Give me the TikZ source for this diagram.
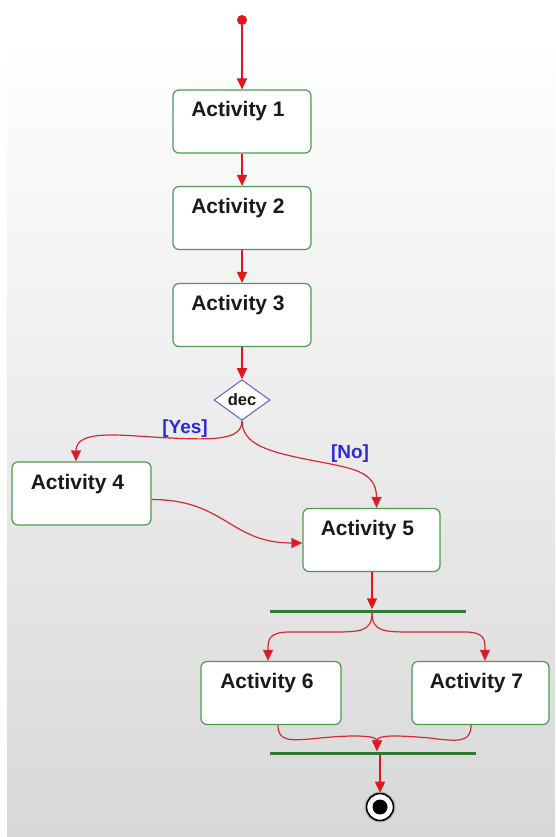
\documentclass[tikz,border=0pt]{standalone}
\usepackage{fontspec}
\setmainfont{Liberation Sans}
\usetikzlibrary{shapes.geometric,arrows.meta,calc}

\definecolor{flowred}{HTML}{E0161C}
\definecolor{curvered}{HTML}{D42A34}
\definecolor{boxgreen}{HTML}{4E9A50}
\definecolor{bargreen}{HTML}{2F7A32}
\definecolor{guardblue}{HTML}{2A2ADC}
\definecolor{decblue}{HTML}{5566CC}
\definecolor{panelbottom}{HTML}{D8D8D8}
\definecolor{inktext}{HTML}{1A1A1A}

\newcommand{\acttext}[1]{#1\kern8pt}

\begin{document}
\begin{tikzpicture}[x=1pt,y=-1pt,
  activity/.style={draw=boxgreen, line width=1.2pt, fill=white, rounded corners=6pt,
    minimum width=138pt, inner xsep=0pt, inner ysep=12pt, text height=15pt, text depth=24pt,
    font=\fontsize{21}{24}\selectfont\bfseries, text=inktext},
  decision/.style={diamond, draw=decblue, line width=1pt, fill=white, inner sep=0pt,
    minimum width=56pt, minimum height=36pt, font=\fontsize{16.5}{18}\selectfont\bfseries, text=inktext},
  startdot/.style={circle, fill=flowred, inner sep=0pt, minimum size=10pt},
  enddot/.style={circle, draw=black, line width=1.6pt, fill=white, inner sep=0pt, minimum size=27pt,
    preaction={draw=gray!55, line width=4pt},
    path picture={\fill[black] (path picture bounding box.center) circle (7.5pt);}},
  syncbar/.style={rectangle, fill=bargreen, inner sep=0pt, minimum height=3pt},
  guard/.style={text=guardblue, inner sep=0pt, font=\fontsize{19}{22}\selectfont\bfseries},
  flow/.style={draw=flowred, line width=1.5pt, -{Triangle[length=11pt,width=10pt]}},
  flowcurve/.style={draw=curvered, line width=1.2pt, -{Triangle[length=11pt,width=10pt,fill=flowred]}}
]
  % page and shaded panel
  \useasboundingbox (0,0) rectangle (555,837);
  \fill[white] (0,0) rectangle (555,837);
  \fill[top color=white, bottom color=panelbottom] (7,35) rectangle (555,837);

  % nodes
  \node[startdot] (start) at (242,20) {};
  \node[activity] (a1) at (242,121.5) {\acttext{Activity 1}};
  \node[activity] (a2) at (242,218) {\acttext{Activity 2}};
  \node[activity] (a3) at (242,315) {\acttext{Activity 3}};
  \node[decision] (dec) at (242,400) {dec};
  \node[activity, minimum width=139pt] (a4) at (81.5,493.5) {\acttext{Activity 4}};
  \node[activity, minimum width=137pt] (a5) at (371.5,540) {\acttext{Activity 5}};
  \node[syncbar, minimum width=196pt] (fork) at (368,611) {};
  \node[activity, minimum width=140pt] (a6) at (271,693) {\acttext{Activity 6}};
  \node[activity, minimum width=137pt] (a7) at (480.5,693) {\acttext{Activity 7}};
  \node[syncbar, minimum width=206pt] (join) at (373,753) {};
  \node[enddot] (end) at (380,807) {};

  \node[guard] (yes) at (185,429) {[Yes]};
  \node[guard] (no) at (350,454) {[No]};

  % straight flows
  \draw[flow] (start) -- (a1);
  \draw[flow] (a1) -- (a2);
  \draw[flow] (a2) -- (a3);
  \draw[flow] (a3) -- (dec);
  \draw[flow] ([xshift=0.5pt]a5.south) -- ([xshift=4pt]fork.north);
  \draw[flow] ([xshift=7pt]join.south) -- (end);

  % decision branches
  \draw[flowcurve] (dec.south) .. controls (242,440) and (215,440) .. (170,438)
    .. controls (125,436) and (76,428) .. ([xshift=-5.5pt]a4.north);
  \draw[flowcurve] (dec.south) .. controls (242,445) and (270,452) .. (310,460)
    .. controls (350,468) and (376.5,470) .. ([xshift=5pt]a5.north);

  % merge into Activity 5
  \draw[flowcurve] ([yshift=-6pt]a4.east) .. controls (225,499.5) and (230,543) .. ([yshift=-3pt]a5.west);

  % fork
  \draw[flowcurve] ([xshift=4pt]fork.south) .. controls (372,632) and (360,632) .. (330,632)
    -- (290,632) .. controls (268,632) and (268,640) .. ([xshift=-3pt]a6.north);
  \draw[flowcurve] ([xshift=4pt]fork.south) .. controls (372,632) and (384,632) .. (414,632)
    -- (465,632) .. controls (485,632) and (485,640) .. ([xshift=4.5pt]a7.north);

  % join
  \draw[flowcurve] ([xshift=7pt]a6.south) .. controls (278,742) and (290,741) .. (320,738)
    .. controls (350,735) and (377,735) .. ([xshift=4pt]join.north);
  \draw[flowcurve] ([xshift=-9.5pt]a7.south) .. controls (471,742) and (460,742) .. (430,738)
    .. controls (395,735) and (377,735) .. ([xshift=4pt]join.north);
\end{tikzpicture}
\end{document}
